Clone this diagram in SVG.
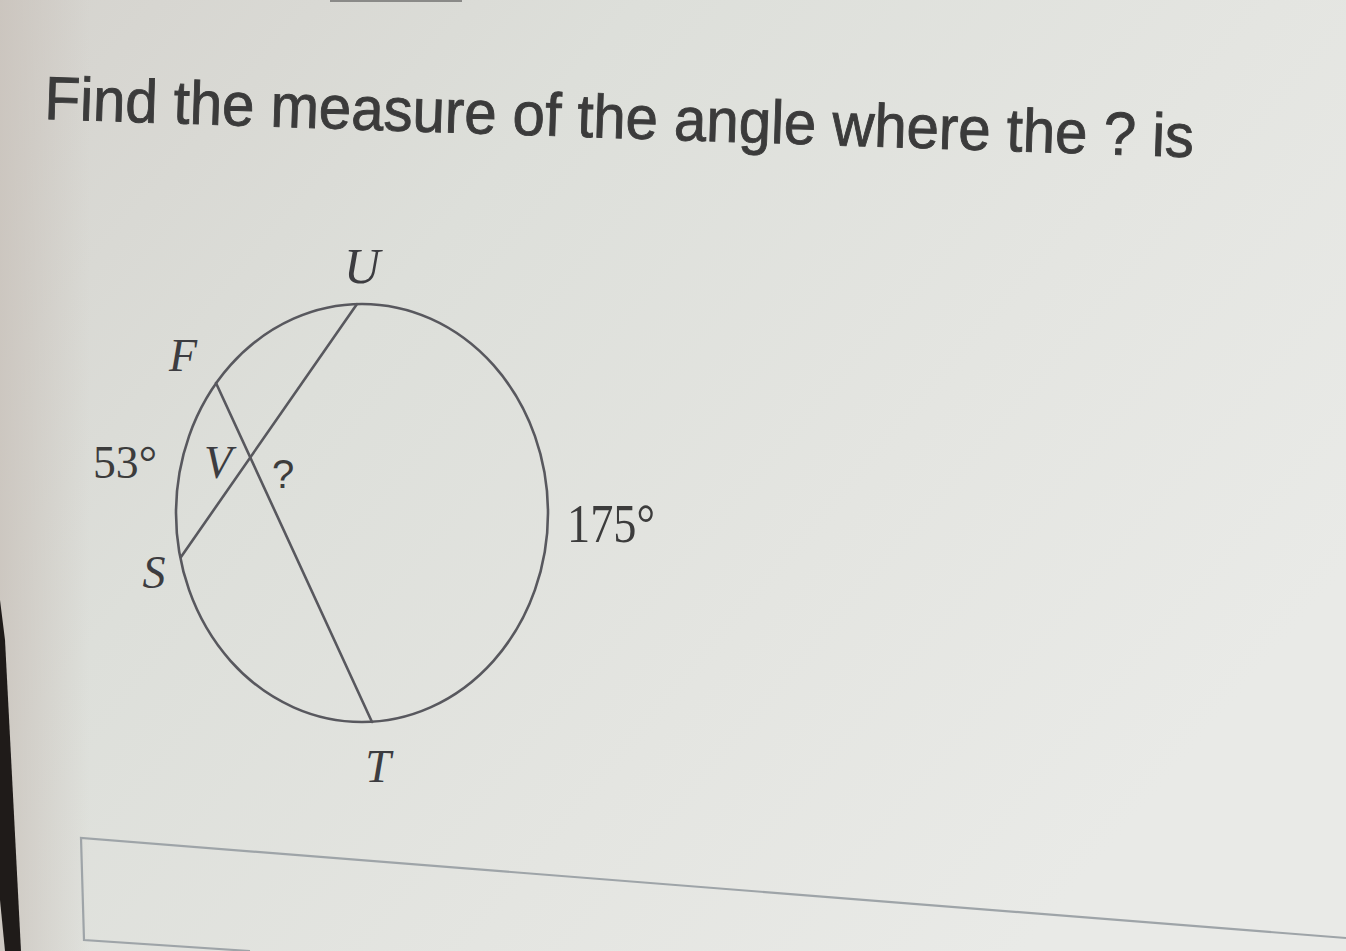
<svg xmlns="http://www.w3.org/2000/svg" width="1346" height="951" viewBox="0 0 1346 951">
  <defs>
    <linearGradient id="bg" x1="0" y1="0" x2="1" y2="0.6">
      <stop offset="0" stop-color="#d5d3ce"/>
      <stop offset="0.35" stop-color="#dddfda"/>
      <stop offset="0.7" stop-color="#e4e5e1"/>
      <stop offset="1" stop-color="#e9eae7"/>
    </linearGradient>
    <linearGradient id="leftshade" x1="0" y1="0" x2="1" y2="0">
      <stop offset="0" stop-color="#c9c2bb" stop-opacity="0.8"/>
      <stop offset="1" stop-color="#c9c2bb" stop-opacity="0"/>
    </linearGradient>
    <style>
      .lbl { font-family: "Liberation Serif", "DejaVu Serif", serif; font-style: italic; fill: #3c3c40; }
      .num { font-family: "Liberation Serif", "DejaVu Serif", serif; fill: #3c3c3c; }
      .geo { fill: none; stroke: #58585e; stroke-width: 2.6; stroke-linecap: round; }
    </style>
  </defs>

  <rect x="0" y="0" width="1346" height="951" fill="url(#bg)"/>
  <rect x="0" y="0" width="90" height="951" fill="url(#leftshade)"/>
  <polygon points="0,600 5,640 21,951 5,951 0,900" fill="#1f1b19"/>
  <line x1="330" y1="1" x2="462" y2="1" stroke="#8a8a88" stroke-width="2"/>

  <g id="title">
    <text x="44" y="119" transform="rotate(1.9 44 119)" font-family="'Liberation Sans', Arial, sans-serif" font-size="61" fill="#3b3b3b" stroke="#3b3b3b" stroke-width="0.9" textLength="1150" lengthAdjust="spacingAndGlyphs">Find the measure of the angle where the ? is</text>
  </g>

  <g id="circle">
    <ellipse class="geo" cx="362" cy="513" rx="186" ry="209"/>
  </g>

  <g id="connectors">
    <line class="geo" x1="216" y1="383" x2="372" y2="722"/>
    <line class="geo" x1="357" y1="304" x2="181" y2="557"/>
  </g>

  <g id="node-U"><text class="lbl" x="362" y="283" font-size="50" text-anchor="middle">U</text></g>
  <g id="node-F"><text class="lbl" x="183" y="371" font-size="46" text-anchor="middle">F</text></g>
  <g id="node-V"><text class="lbl" x="218" y="478" font-size="46" text-anchor="middle" fill="#44446a">V</text></g>
  <g id="node-S"><text class="lbl" x="154" y="588" font-size="46" text-anchor="middle">S</text></g>
  <g id="node-T"><text class="lbl" x="378" y="782" font-size="46" text-anchor="middle">T</text></g>
  <g id="label-q"><text x="283" y="488" font-family="'Liberation Sans', Arial, sans-serif" font-size="40" text-anchor="middle" fill="#3c3c3c">?</text></g>
  <g id="label-53"><text class="num" x="93" y="478" font-size="46" textLength="64" lengthAdjust="spacingAndGlyphs">53°</text></g>
  <g id="label-175"><text class="num" x="567" y="542" font-size="54" textLength="88" lengthAdjust="spacingAndGlyphs">175°</text></g>

  <g id="answer-box">
    <polyline points="1346,938 81,838 84,940 250,951" fill="none" stroke="#9ea4a8" stroke-width="2.2"/>
  </g>
</svg>
